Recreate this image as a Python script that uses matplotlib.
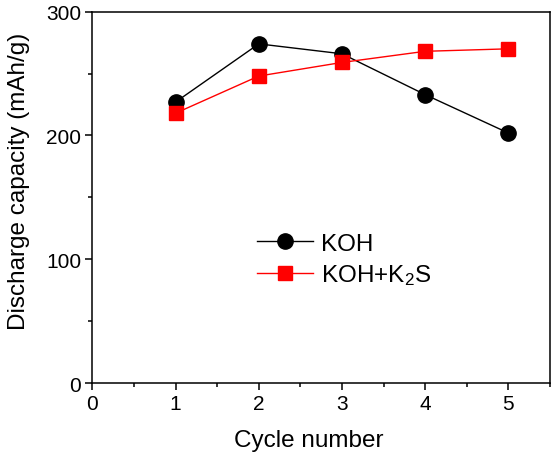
import numpy as np
import matplotlib
matplotlib.use('Agg')
import matplotlib.pyplot as plt
from matplotlib.ticker import MultipleLocator

plt.rcParams['font.family'] = ['Liberation Sans', 'DejaVu Sans']
plt.rcParams['mathtext.default'] = 'regular'

cycles = [1, 2, 3, 4, 5]
koh = [227, 274, 266, 233, 202]
koh_k2s = [218, 248, 259, 268, 270]

fig = plt.figure(figsize=(5.51, 4.60), dpi=100)
ax = fig.add_axes([0.1677, 0.1652, 0.8303, 0.8072])

ax.plot(cycles, koh, color='black', lw=1.0, marker='o', markersize=11, label='KOH')
ax.plot(cycles, koh_k2s, color='red', lw=1.0, marker='s', markersize=9.5,
        label=r'KOH+K$_2$S')

ax.set_xlim(0, 5.5)
ax.set_ylim(0, 300)
ax.xaxis.set_major_locator(MultipleLocator(1))
ax.xaxis.set_minor_locator(MultipleLocator(0.5))
ax.yaxis.set_major_locator(MultipleLocator(100))
ax.yaxis.set_minor_locator(MultipleLocator(50))
ax.tick_params(which='major', direction='out', length=5, width=1.1, labelsize=15, pad=3)
ax.tick_params(which='minor', direction='out', length=3, width=1.1)
for s in ax.spines.values():
    s.set_linewidth(1.1)

ax.set_xlabel('Cycle number', fontsize=17.5)
ax.set_ylabel('Discharge capacity (mAh/g)', fontsize=17.5)
ax.xaxis.set_label_coords(0.473, -0.124)
ax.yaxis.set_label_coords(-0.137, 0.547)

ax.legend(loc='upper left', bbox_to_anchor=(0.313, 0.463), frameon=False,
          fontsize=17.5, handlelength=2.3, handletextpad=0.3, labelspacing=0.3)

fig.savefig('out.png', dpi=100)
